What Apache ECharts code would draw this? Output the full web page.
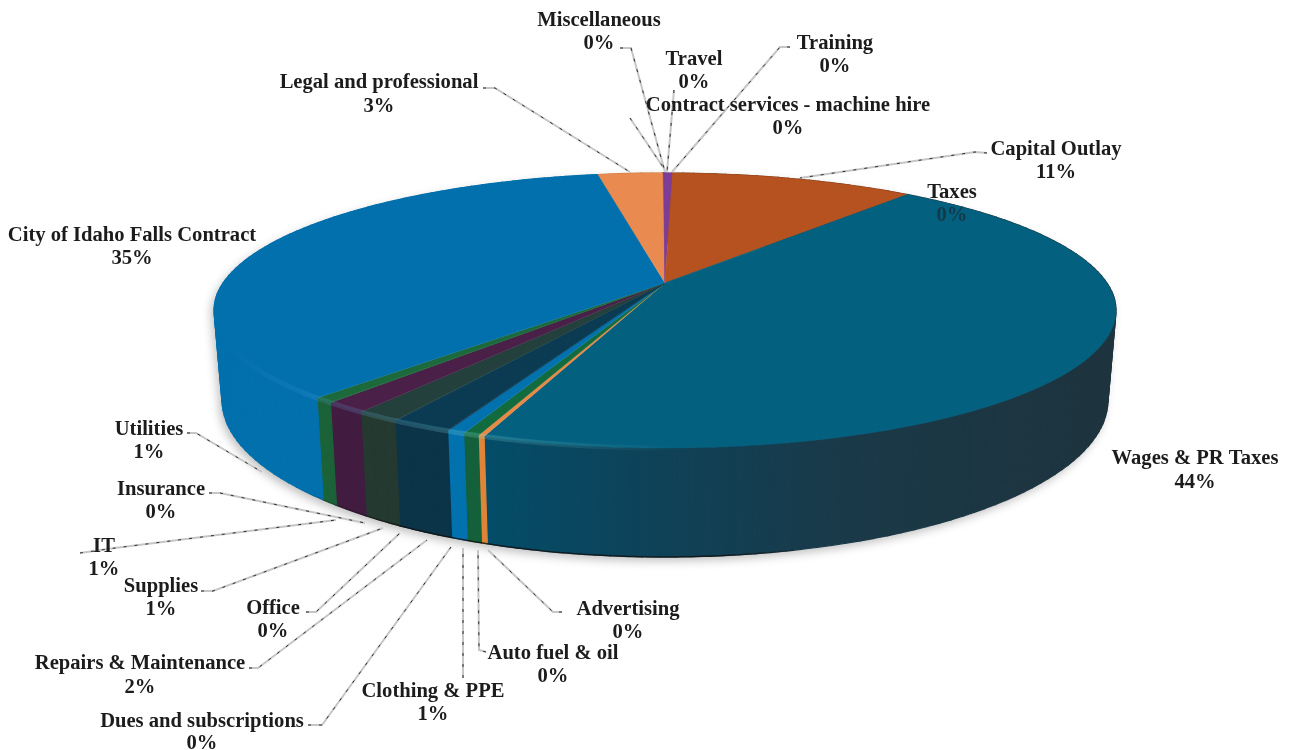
<!DOCTYPE html>
<html><head><meta charset="utf-8">
<style>html,body{margin:0;padding:0;background:#fff}#c{width:1295px;height:750px}</style>
<script src="https://cdn.jsdelivr.net/npm/echarts@6/dist/echarts.min.js"></script>
</head><body><div id="c"></div>
<script>
// DATA (clockwise from 12 o'clock)
const categories = ['Contract services - machine hire','Capital Outlay','Taxes','Wages & PR Taxes','Advertising','Auto fuel & oil','Clothing & PPE','Dues and subscriptions','Repairs & Maintenance','Office','Supplies','IT','Insurance','Utilities','City of Idaho Falls Contract','Legal and professional','Miscellaneous','Travel','Training'];
const values = [0.32,10.6,0.02,44.45,0.19,0.47,0.53,0.03,1.8,0.03,1.33,1.3,0.03,0.6,35.4,2.8,0.03,0.03,0.04];

// STYLES
const topColors = ['#7d3d96','#b5521f','#05607f','#04607f','#e88a45','#126b3e','#0272ae','#0a3a52','#0a3b52','#0a3b52','#24403c','#4a1f48','#1c6a3c','#1c6a3c','#0270ac','#e98b50','#e98b50','#7d3d96','#7d3d96'];
const wallColors = ['#5a2d6e','#7d3a18','#1a3a4a',null,'#df8438','#14603a','#0272ae','#0c3448','#0c3448','#0c3448','#24392f','#421c40','#1b6238','#1b6238','#0270ac','#c8763f','#7d3a18','#5a2d6e','#5a2d6e'];
const wagesWallStops = [[490,'#044c68'],[650,'#0e4258'],[850,'#1a3948'],[1117,'#1d333d']];

// PROJECTION of the disc (layout)
const K = 0.2;
const topRing = {cx:665, ay:283, R:441.9, S:132};
const baseRing = {cx:665, ay:368.6, R:434, S:150.7};
const total = values.reduce((a,b)=>a+b,0);
const startAngles = []; { let c=0; values.forEach(v=>{startAngles.push(c/total*2*Math.PI); c+=v;}); }
const SIDE = 101.5*Math.PI/180;
function project(th, ring){
  const u=Math.sin(th), v=-Math.cos(th), w=1-K*v;
  return [ring.cx+ring.R*u/w, ring.ay+ring.S*v/w];
}
function arc(a0,a1,ring){
  const n=Math.max(2,Math.ceil(Math.abs(a1-a0)/0.01)), pts=[];
  for(let i=0;i<=n;i++) pts.push(project(a0+(a1-a0)*i/n,ring));
  return pts;
}
function hGrad(stops,x0,x1){
  return new echarts.graphic.LinearGradient(x0,0,x1,0,stops.map(s=>({offset:(s[0]-x0)/(x1-x0),color:s[1]})),true);
}
const sliceAngles = i => { const a0=startAngles[i]; return [a0, a0+values[i]/total*2*Math.PI]; };

// LABEL LAYOUT: [centre x, name y, percent y]
const labelPos = [[788,105.5,128.5],[1056,149.5,172.5],[952,192.5,215.5],[1195,458.5,482.5],[628,609.5,632.5],[553,653.5,676.5],[433,691.5,714.5],[202,721.5,744],[140,663.5,687.5],[273,608.5,631.5],[161,586.5,609.5],[104,546.5,569.5],[161,489.5,512.5],[149,429.5,452.5],[132,235.5,258.5],[379,82.5,106.5],[599,20.5,43.5],[694,59.5,82.5],[835,43.5,66.5]];
const leaderPaths = [
 [[630,118],[665,170]],
 [[987,153],[975,152],[800,178]],
 [],[],
 [[562,612],[553,612],[488,550]],
 [[486,652],[479,650],[478,550]],
 [[463,678],[463,548]],
 [[308,725],[322,725],[451,547]],
 [[249,668],[258,668],[427,540]],
 [[306,612],[316,612],[400,533]],
 [[201,591],[213,591],[383,528]],
 [[80,553],[115,548],[336,520]],
 [[209,493],[220,493],[365,523]],
 [[187,433],[196,433],[262,472]],
 [],
 [[483,88],[495,88],[630,172]],
 [[620,48],[631,48],[665,172]],
 [[674,90],[667,172]],
 [[790,47],[780,47],[672,172]]
];
const font = 'bold 20.6px "Liberation Serif", serif';

const seriesData = values.map((v,i)=>({name:categories[i],value:v}));
const base = {type:'custom',coordinateSystem:'none',data:seriesData,silent:true,animation:false};

const option = {
 backgroundColor:'#ffffff', animation:false,
 series:[
  {...base, z:1, data:[{name:'shadow',value:0}], renderItem(){
    const hull=arc(-SIDE,SIDE,topRing).concat(arc(SIDE,2*Math.PI-SIDE,baseRing));
    return {type:'polygon',shape:{points:hull},
      style:{fill:'#ffffff',shadowBlur:10,shadowColor:'rgba(0,0,0,0.25)',shadowOffsetX:-3,shadowOffsetY:4}};
  }},
  {...base, z:2, renderItem(p){
    const i=p.dataIndex,[a0,a1]=sliceAngles(i);
    const fill= wallColors[i]||hGrad(wagesWallStops,490,1117);
    const n=Math.max(1,Math.ceil((a1-a0)/0.03)), children=[];
    for(let s=0;s<n;s++){
      const b0=a0+(a1-a0)*s/n, b1=a0+(a1-a0)*(s+1)/n;
      children.push({type:'polygon',shape:{points:[project(b0,topRing),project(b1,topRing),project(b1,baseRing),project(b0,baseRing)]},style:{fill,stroke:fill,lineWidth:1.2}});
    }
    return {type:'group',children};
  }},
  {...base, z:3, data:[{name:'edge',value:0}], renderItem(){
    return {type:'polyline',shape:{points:arc(2.9,4.3,baseRing)},
      style:{fill:null,lineWidth:1.5,stroke:hGrad([[300,'rgba(15,15,15,0)'],[400,'rgba(15,15,15,0.8)'],[720,'rgba(15,15,15,0.8)'],[860,'rgba(15,15,15,0)']],300,860)}};
  }},
  {...base, z:4, renderItem(p){
    const i=p.dataIndex,[a0,a1]=sliceAngles(i);
    const pts=[[topRing.cx,topRing.ay]].concat(arc(a0,a1,topRing));
    const fill=topColors[i];
    return {type:'polygon',shape:{points:pts},style:{fill,stroke:fill,lineWidth:0.4}};
  }},
  {...base, z:5, data:[{name:'rim',value:0}], renderItem(){
    const stroke=hGrad([[225,'rgba(90,170,255,0)'],[320,'rgba(90,170,240,0.16)'],[470,'rgba(130,215,210,0.24)'],[680,'rgba(130,215,210,0)']],225,680);
    return {type:'polyline',shape:{points:arc(3.0,4.6,topRing)},style:{fill:null,lineWidth:5,stroke}};
  }},
  {...base, z:6, renderItem(p){
    const path=leaderPaths[p.dataIndex];
    if(!path.length) return {type:'group',children:[]};
    return {type:'group',children:[
      {type:'polyline',shape:{points:path},style:{fill:null,stroke:'#c6c6c6',lineWidth:2}},
      {type:'polyline',shape:{points:path},style:{fill:null,stroke:'#2e2e2e',lineWidth:1,lineDash:[3,8]}}
    ]};
  }},
  {...base, z:7, renderItem(p){
    const i=p.dataIndex,pos=labelPos[i];
    const pct=Math.round(values[i])+'%';
    const t=(s,y,fill)=>({type:'text',style:{text:s,x:pos[0],y,align:'center',verticalAlign:'middle',font,fill}});
    return {type:'group',children:[t(categories[i],pos[1],'#1c1c1c'),t(pct,pos[2],i===2?'#123a4a':'#1c1c1c')]};
  }}
 ]
};
echarts.init(document.getElementById('c'),null,{renderer:'canvas'}).setOption(option);
</script></body></html>
